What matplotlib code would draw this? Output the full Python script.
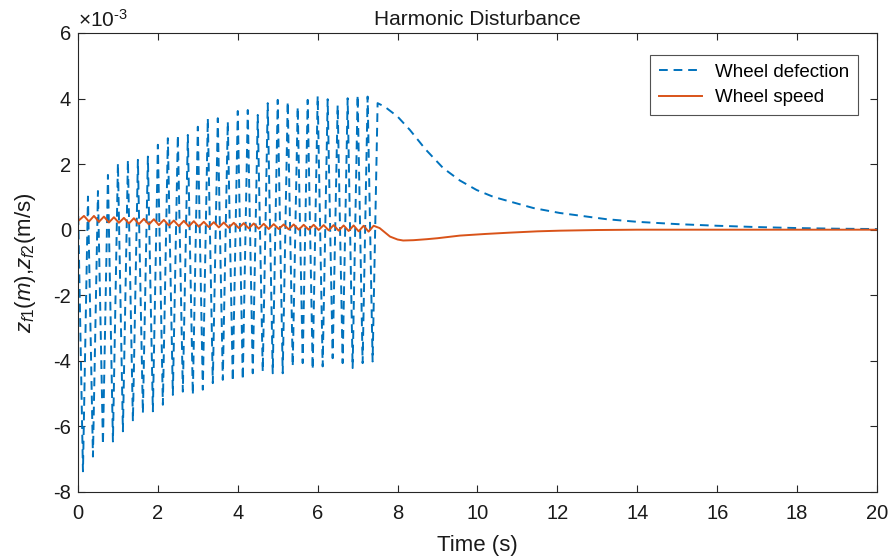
import numpy as np
import matplotlib
matplotlib.use("Agg")
import matplotlib.pyplot as plt

plt.rcParams['font.family'] = ['Liberation Sans', 'DejaVu Sans']
plt.rcParams['mathtext.fontset'] = 'custom'
plt.rcParams['mathtext.rm'] = 'Liberation Sans'
plt.rcParams['mathtext.it'] = 'Liberation Sans:italic'
plt.rcParams['axes.unicode_minus'] = False

blue = '#0072BD'
orange = '#D95319'

# ---- wheel deflection (x1e-3), harmonic part: crests every 0.25 s, troughs in between
defl_crest = [0.86, 1.01, 1.18, 1.67, 2.03, 2.13, 2.13, 2.23, 2.59, 2.79, 2.89,
              2.89, 3.14, 3.40, 3.40, 3.30, 3.62, 3.65, 3.50, 3.86, 3.96, 3.91,
              3.75, 3.96, 4.08, 3.98, 3.80, 4.01, 4.11, 4.06, 3.86]
defl_trough = [-7.37, -6.92, -6.56, -6.46, -6.15, -5.85, -5.60, -5.54, -5.34, -5.04,
               -4.94, -5.04, -4.88, -4.68, -4.58, -4.63, -4.58, -4.38, -4.33, -4.38,
               -4.38, -4.17, -4.07, -4.27, -4.17, -3.92, -4.07, -4.22, -4.07, -4.02]
# free decay after the disturbance stops
defl_tail_t = [7.68, 8.0, 8.31, 8.7, 9.14, 9.56, 9.98, 10.4, 10.81, 11.4, 12.06,
               13.23, 14, 15, 16, 17, 18, 19, 20]
defl_tail_v = [3.75, 3.45, 3.04, 2.45, 1.88, 1.50, 1.21, 1.00, 0.86, 0.66, 0.51,
               0.32, 0.24, 0.17, 0.12, 0.08, 0.05, 0.03, 0.02]

# ---- wheel speed (x1e-3)
speed_start = 0.26
speed_crest = [0.42, 0.42, 0.40, 0.38, 0.36, 0.35, 0.33, 0.32, 0.30, 0.28,
               0.27, 0.26, 0.24, 0.23, 0.22, 0.21, 0.20, 0.19, 0.18, 0.17,
               0.16, 0.16, 0.15, 0.15, 0.14, 0.14, 0.13, 0.13, 0.12, 0.12]
speed_trough = [0.25, 0.24, 0.22, 0.21, 0.19, 0.17, 0.16, 0.14, 0.13, 0.11,
                0.10, 0.09, 0.08, 0.07, 0.06, 0.05, 0.04, 0.03, 0.02, 0.02,
                0.01, 0.00, 0.00, -0.01, -0.02, -0.03, -0.04, -0.05, -0.06]
speed_tail_t = [7.55, 7.65, 7.81, 8.0, 8.14, 8.4, 8.73, 9.0, 9.56, 10.2, 10.81,
                11.5, 12.06, 13, 14, 16, 20]
speed_tail_v = [0.05, -0.05, -0.21, -0.30, -0.33, -0.32, -0.29, -0.26, -0.18,
                -0.13, -0.09, -0.05, -0.03, -0.01, 0.0, 0.0, 0.0]


def interleave(t_a, v_a, t_b, v_b):
    t = np.concatenate([t_a, t_b])
    v = np.concatenate([v_a, v_b])
    idx = np.argsort(t, kind='stable')
    return t[idx], v[idx]


# deflection path
tc = 0.25 * np.arange(len(defl_crest))
tt = 0.125 + 0.25 * np.arange(len(defl_trough))
t1, v1 = interleave(tc, defl_crest, tt, defl_trough)
t1 = np.concatenate([t1, defl_tail_t])
v1 = np.concatenate([v1, defl_tail_v])

# speed path
sc = 0.15 + 0.25 * np.arange(len(speed_crest))
st = 0.275 + 0.25 * np.arange(len(speed_trough))
t2, v2 = interleave(sc, speed_crest, st, speed_trough)
t2 = np.concatenate([[0.0], t2, speed_tail_t])
v2 = np.concatenate([[speed_start], v2, speed_tail_v])

fig = plt.figure(figsize=(8.9, 5.59), dpi=100)
ax = fig.add_axes([0.0876, 0.1199, 0.8978, 0.8211])

ax.plot(t1, v1, color=blue, lw=1.4, dashes=(4.5, 3), label='Wheel defection')
ax.plot(t2, v2, color=orange, lw=1.4, label='Wheel speed')

ax.set_xlim(0, 20)
ax.set_ylim(-8, 6)
ax.set_xticks(np.arange(0, 21, 2))
ax.set_yticks(np.arange(-8, 7, 2))
ax.tick_params(direction='in', top=True, right=True, labelsize=14.5,
               length=5, width=0.8, color='#262626', labelcolor='#1a1a1a', pad=5)
ax.tick_params(axis='x', pad=9)
for s in ax.spines.values():
    s.set_color('#262626')
    s.set_linewidth(0.8)

ax.text(0.0, 1.004, r'$\times10^{\text{-}3}$', transform=ax.transAxes,
        fontsize=15, ha='left', va='bottom', color='#1a1a1a')
ax.set_title('Harmonic Disturbance', fontsize=15, pad=6, color='#1a1a1a')
ax.set_xlabel('Time (s)', fontsize=16, color='#1a1a1a', labelpad=8)
ax.set_ylabel(r'$z_{f1}(m)$,$z_{f2}$(m/s)', fontsize=16, color='#1a1a1a', labelpad=11)

leg = ax.legend(loc='upper right', bbox_to_anchor=(0.976, 0.952), borderaxespad=0,
                fontsize=13.5, frameon=True, fancybox=False, edgecolor='#262626',
                handlelength=2.3, handletextpad=0.7, borderpad=0.45, labelspacing=0.45)
leg.get_frame().set_linewidth(0.8)

fig.savefig('out.png', dpi=100)
